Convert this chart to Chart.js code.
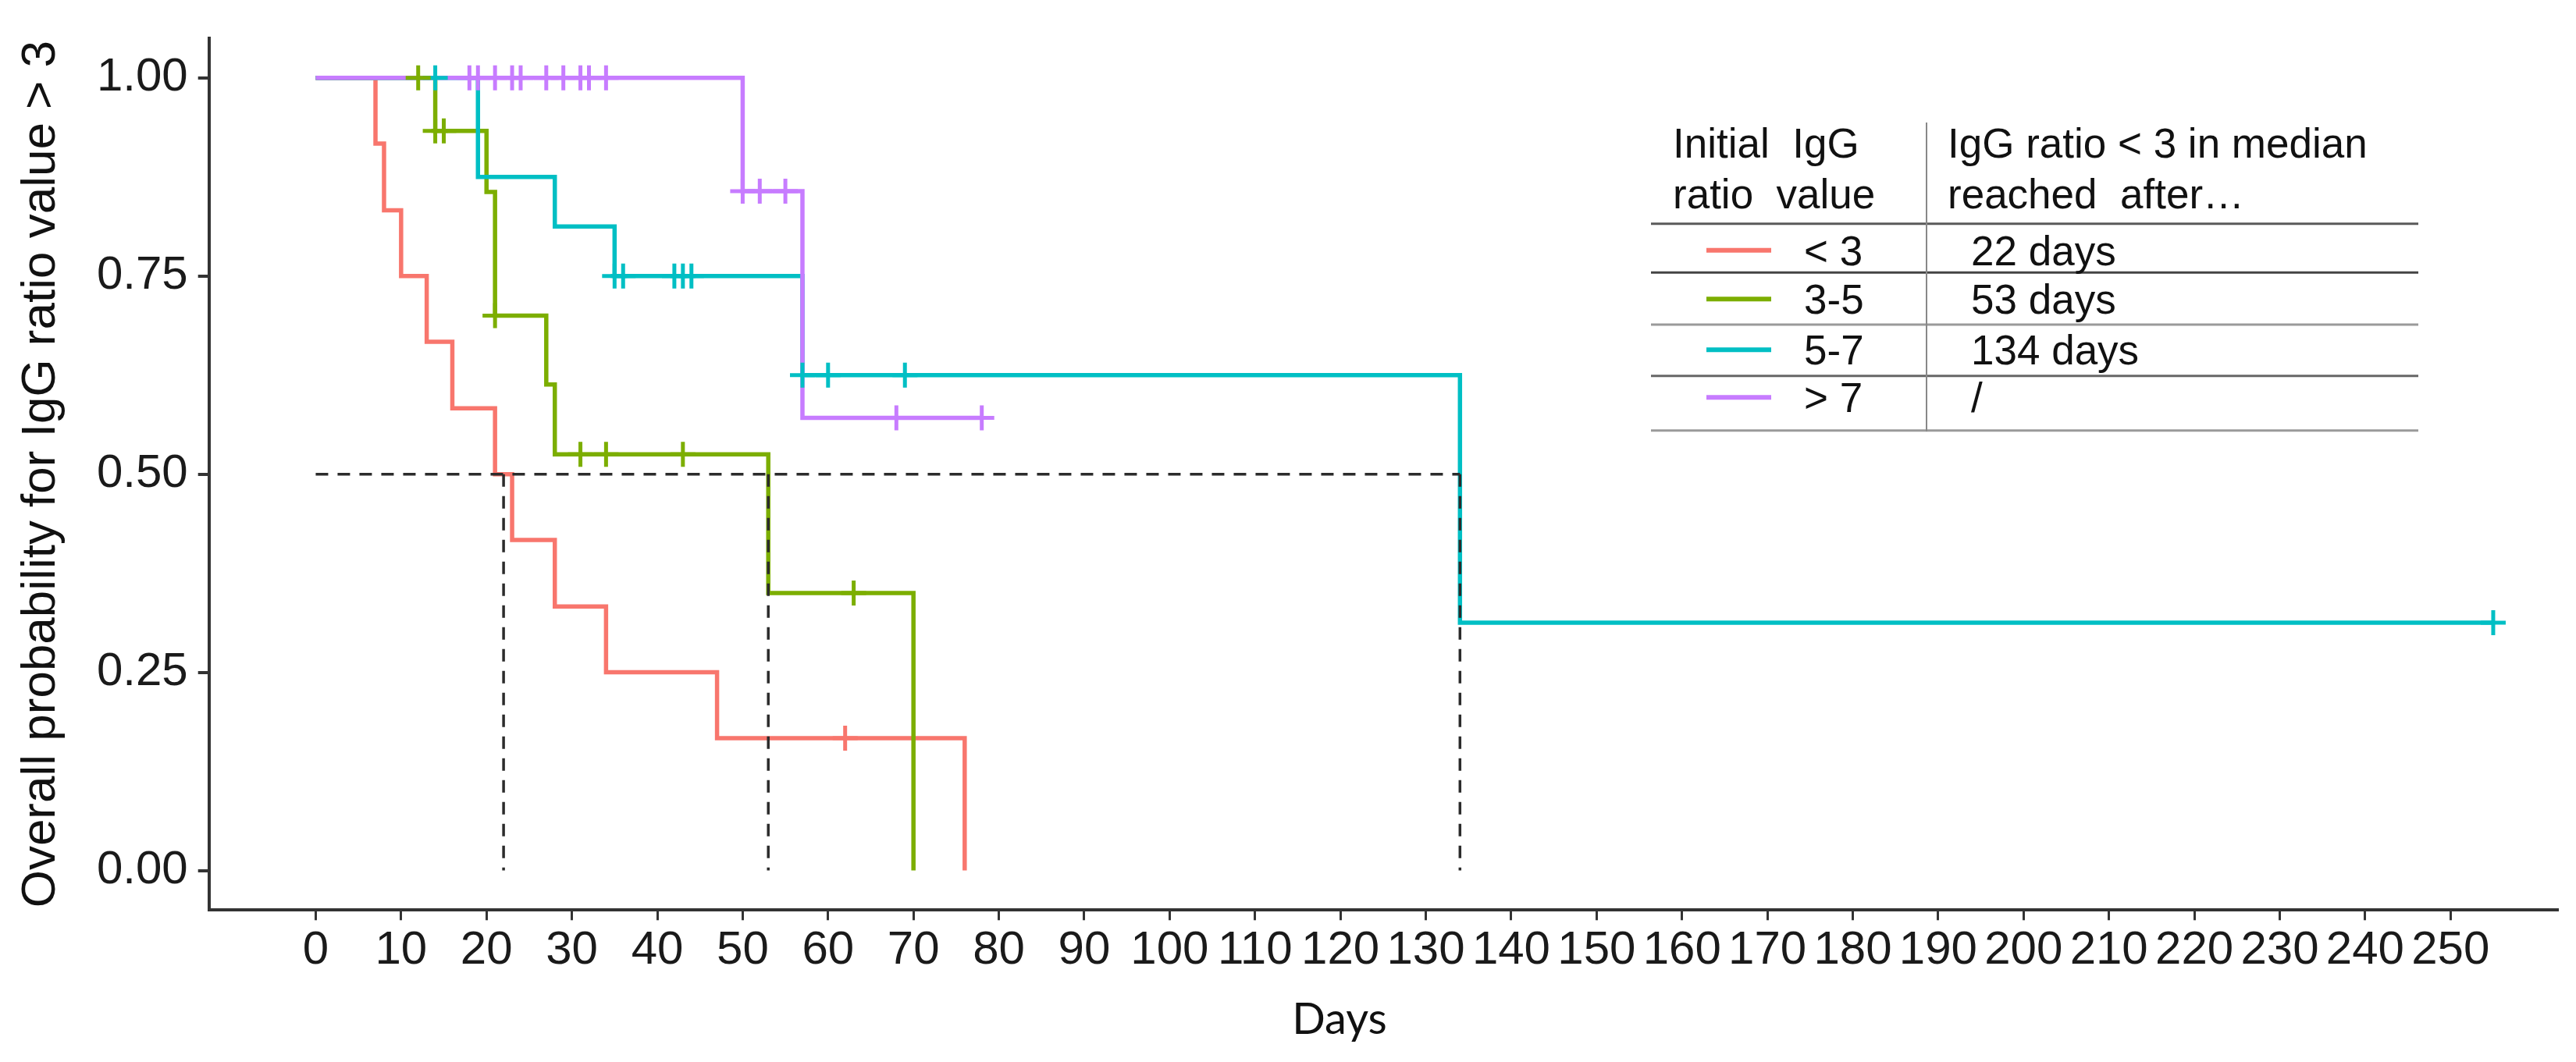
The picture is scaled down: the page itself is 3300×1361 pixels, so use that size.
<!DOCTYPE html>
<html>
<head>
<meta charset="utf-8">
<script src="https://cdn.jsdelivr.net/npm/chart.js@4.4.1/dist/chart.umd.min.js"></script>
<style>
  html, body { margin: 0; padding: 0; background: #fff; }
</style>
</head>
<body>
<canvas id="km-chart" width="3300" height="1361"></canvas>
<script>
Chart.defaults.font.family = "'Liberation Sans', Arial, sans-serif";
Chart.defaults.color = '#1a1a1a';

// groups (initial IgG ratio value) and median time to ratio < 3
const groupLabels = ['< 3', '3-5', '5-7', '> 7'];
const groupColors = ['#F8766D', '#7CAE00', '#00BFC4', '#C77CFF'];
const medianText = ['22 days', '53 days', '134 days', '/'];

// Kaplan-Meier steps: day of each drop and survival after it
const redDays = [0, 7, 8, 10, 13, 16, 21, 23, 28, 34, 47, 76];
const redSurv = [1, 0.917, 0.833, 0.75, 0.667, 0.583, 0.5, 0.417, 0.333, 0.25, 0.167, 0];
const greenDays = [0, 14, 20, 21, 27, 28, 53, 70];
const greenSurv = [1, 0.933, 0.856, 0.70, 0.613, 0.525, 0.35, 0];
const cyanDays = [0, 19, 28, 35, 57, 134, 255];
const cyanSurv = [1, 0.875, 0.8125, 0.75, 0.625, 0.3125, 0.3125];
const purpleDays = [0, 50, 57, 78];
const purpleSurv = [1, 0.857, 0.571, 0.571];

// censored observations
const redCensorDays = [62];
const redCensorSurv = [0.167];
const greenCensorDays = [12, 14, 15, 21, 31, 34, 43, 63];
const greenCensorSurv = [1, 0.933, 0.933, 0.70, 0.525, 0.525, 0.525, 0.35];
const cyanCensorDays = [14, 35, 36, 42, 43, 44, 57, 60, 69, 255];
const cyanCensorSurv = [1, 0.75, 0.75, 0.75, 0.75, 0.75, 0.625, 0.625, 0.625, 0.3125];
const purpleCensorDays = [18, 19, 21, 23, 24, 27, 29, 31, 32, 34, 50, 52, 55, 68, 78];
const purpleCensorSurv = [1, 1, 1, 1, 1, 1, 1, 1, 1, 1, 0.857, 0.857, 0.857, 0.571, 0.571];

// median reference lines
const medianLevel = 0.5;
const medianDays = [22, 53, 134];

const xTickValues = [0, 10, 20, 30, 40, 50, 60, 70, 80, 90, 100, 110, 120, 130, 140, 150, 160, 170, 180, 190, 200, 210, 220, 230, 240, 250];
const yTickValues = [0, 0.25, 0.5, 0.75, 1];
const xTitle = 'Days';
const yTitle = 'Overall probability for IgG ratio value > 3';
const tableHead = [['Initial  IgG', 'ratio  value'], ['IgG ratio < 3 in median', 'reached  after\u2026']];

const stepDays = [redDays, greenDays, cyanDays, purpleDays];
const stepSurv = [redSurv, greenSurv, cyanSurv, purpleSurv];
const censorDays = [redCensorDays, greenCensorDays, cyanCensorDays, purpleCensorDays];
const censorSurv = [redCensorSurv, greenCensorSurv, cyanCensorSurv, purpleCensorSurv];

const toPoints = (xs, ys) => xs.map((x, i) => ({ x: x, y: ys[i] }));

const datasets = [];

// dashed median lines on top
const dashStyle = {
  borderColor: '#2b2b2b',
  borderWidth: 3.5,
  borderDash: [16, 12],
  pointRadius: 0,
  fill: false,
  order: 0,
};
datasets.push(Object.assign({
  label: 'median',
  data: [{ x: 0, y: medianLevel }, { x: medianDays[medianDays.length - 1], y: medianLevel }],
}, dashStyle));
medianDays.forEach((d) => {
  datasets.push(Object.assign({
    label: 'median ' + d,
    data: [{ x: d, y: medianLevel }, { x: d, y: 0 }],
  }, dashStyle));
});

// censor marks
groupLabels.forEach((g, i) => {
  datasets.push({
    label: g + ' censored',
    data: toPoints(censorDays[i], censorSurv[i]),
    showLine: false,
    pointStyle: 'cross',
    pointRadius: 16,
    pointBorderWidth: 5,
    pointBorderColor: groupColors[i],
    pointBackgroundColor: groupColors[i],
    order: 1,
  });
});

// step curves, purple drawn last (on top)
groupLabels.forEach((g, i) => {
  datasets.push({
    label: g,
    data: toPoints(stepDays[i], stepSurv[i]),
    stepped: true,
    borderColor: groupColors[i],
    borderWidth: 5.5,
    pointRadius: 0,
    fill: false,
    order: 5 - i,
  });
});

const tablePlugin = {
  id: 'tablePlugin',
  afterDraw(chart) {
    const ctx = chart.ctx;
    ctx.save();

    // x axis title
    ctx.fillStyle = '#111';
    ctx.font = "56px Lato, 'Open Sans', sans-serif";
    ctx.textAlign = 'center';
    ctx.textBaseline = 'alphabetic';
    ctx.fillText(xTitle, 1716, 1325);

    // table rules
    const ruleY = [286.7, 349.3, 416, 481.7, 551.7];
    const ruleColor = ['#5a5a5a', '#444', '#9a9a9a', '#666', '#9a9a9a'];
    ruleY.forEach((y, i) => {
      ctx.strokeStyle = ruleColor[i];
      ctx.lineWidth = 3;
      ctx.beginPath();
      ctx.moveTo(2115, y);
      ctx.lineTo(3098, y);
      ctx.stroke();
    });
    ctx.strokeStyle = '#888';
    ctx.lineWidth = 2;
    ctx.beginPath();
    ctx.moveTo(2468, 157);
    ctx.lineTo(2468, 553);
    ctx.stroke();

    // header
    ctx.fillStyle = '#111';
    ctx.font = "53px 'Liberation Sans', Arial, sans-serif";
    ctx.textAlign = 'left';
    ctx.fillText(tableHead[0][0], 2143, 201.7);
    ctx.fillText(tableHead[0][1], 2143, 267.3);
    ctx.fillText(tableHead[1][0], 2495, 201.7);
    ctx.fillText(tableHead[1][1], 2495, 267.3);

    // rows
    const rowY = [320.7, 383.3, 448.3, 509.3];
    groupLabels.forEach((g, i) => {
      ctx.strokeStyle = groupColors[i];
      ctx.lineWidth = 6;
      ctx.beginPath();
      ctx.moveTo(2186, rowY[i]);
      ctx.lineTo(2269, rowY[i]);
      ctx.stroke();
      ctx.fillStyle = '#111';
      ctx.fillText(g, 2311, rowY[i] + 19);
      ctx.fillText(medianText[i], 2525, rowY[i] + 19);
    });

    ctx.restore();
  },
};

const ctx = document.getElementById('km-chart').getContext('2d');
const kmChart = new Chart(ctx, {
  type: 'line',
  data: { datasets: datasets },
  options: {
    responsive: false,
    devicePixelRatio: 1,
    animation: false,
    layout: { padding: { left: 0, top: 37, right: 24, bottom: 0 } },
    scales: {
      x: {
        type: 'linear',
        min: -12.5,
        max: 262.5,
        afterBuildTicks: (scale) => { scale.ticks = xTickValues.map((v) => ({ value: v })); },
        afterFit: (scale) => { scale.height = 194.7; },
        ticks: { font: { size: 60 }, color: '#1a1a1a', padding: 3, maxRotation: 0, autoSkip: false },
        grid: { drawOnChartArea: false, drawTicks: true, tickLength: 13, lineWidth: 3, color: '#333' },
        border: { display: true, color: '#333', width: 4 },
      },
      y: {
        type: 'linear',
        min: -0.05,
        max: 1.05,
        afterBuildTicks: (scale) => { scale.ticks = yTickValues.map((v) => ({ value: v })); },
        afterFit: (scale) => { scale.width = 267.7; },
        ticks: {
          font: { size: 60 },
          color: '#1a1a1a',
          padding: 13,
          callback: (v) => Number(v).toFixed(2),
        },
        grid: { drawOnChartArea: false, drawTicks: true, tickLength: 14, lineWidth: 4, color: '#333' },
        border: { display: true, color: '#333', width: 4 },
        title: {
          display: true,
          text: yTitle,
          font: { size: 62 },
          color: '#111',
          padding: { top: 16, bottom: 0 },
        },
      },
    },
    plugins: {
      legend: { display: false },
      tooltip: { enabled: false },
    },
  },
  plugins: [tablePlugin],
});
</script>
</body>
</html>
